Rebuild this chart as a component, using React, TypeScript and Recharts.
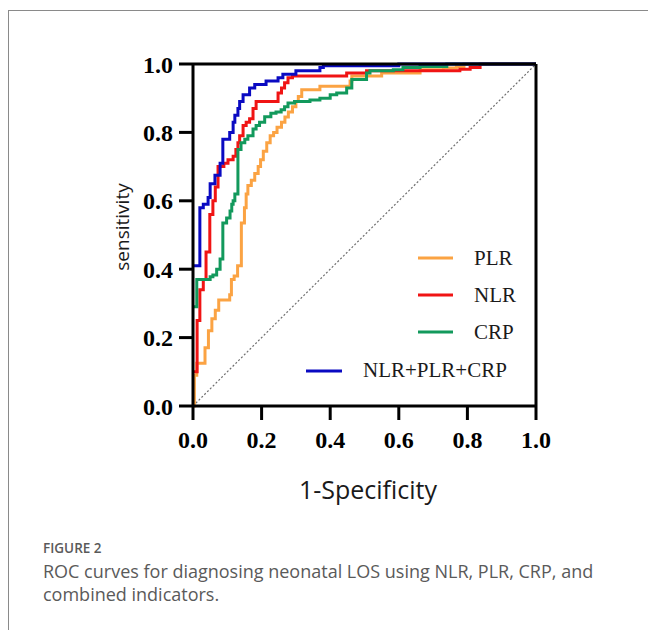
import React from 'react';
import { LineChart, Line, XAxis, YAxis } from 'recharts';

// ROC points as [1-specificity, sensitivity]; step is drawn horizontally then up
const plrPoints: [number, number][] = [
  [0, 0], [0.004, 0.09], [0.011, 0.125], [0.035, 0.17], [0.045, 0.22], [0.055, 0.255],
  [0.065, 0.28], [0.075, 0.31], [0.107, 0.325], [0.112, 0.37], [0.12, 0.38], [0.13, 0.41],
  [0.141, 0.535], [0.15, 0.58], [0.155, 0.62], [0.16, 0.645], [0.17, 0.66], [0.18, 0.68],
  [0.19, 0.7], [0.197, 0.72], [0.205, 0.745], [0.215, 0.77], [0.225, 0.79], [0.235, 0.8],
  [0.245, 0.815], [0.258, 0.83], [0.268, 0.845], [0.278, 0.86], [0.29, 0.875], [0.3, 0.89],
  [0.307, 0.905], [0.317, 0.925], [0.37, 0.935], [0.458, 0.95], [0.463, 0.965], [0.55, 0.974],
  [0.662, 0.983], [0.73, 0.988], [0.768, 0.993], [0.79, 1], [1, 1],
];

const nlrPoints: [number, number][] = [
  [0, 0.1], [0.012, 0.25], [0.02, 0.34], [0.03, 0.37], [0.038, 0.45], [0.049, 0.56],
  [0.058, 0.6], [0.065, 0.64], [0.073, 0.7], [0.09, 0.71], [0.102, 0.72], [0.117, 0.73],
  [0.125, 0.75], [0.131, 0.77], [0.136, 0.79], [0.146, 0.82], [0.155, 0.83], [0.165, 0.84],
  [0.175, 0.87], [0.184, 0.89], [0.248, 0.915], [0.258, 0.93], [0.267, 0.945], [0.277, 0.96],
  [0.29, 0.965], [0.448, 0.974], [0.506, 0.98], [0.778, 0.985], [0.808, 0.99], [0.837, 1], [1, 1],
];

const crpPoints: [number, number][] = [
  [0, 0.29], [0.011, 0.37], [0.05, 0.378], [0.058, 0.383], [0.069, 0.4], [0.079, 0.43],
  [0.087, 0.535], [0.098, 0.55], [0.108, 0.57], [0.113, 0.59], [0.117, 0.6], [0.122, 0.62],
  [0.131, 0.75], [0.14, 0.77], [0.151, 0.78], [0.16, 0.79], [0.175, 0.81], [0.184, 0.82],
  [0.194, 0.83], [0.209, 0.846], [0.227, 0.856], [0.242, 0.86], [0.257, 0.866], [0.267, 0.875],
  [0.277, 0.886], [0.296, 0.89], [0.341, 0.895], [0.37, 0.9], [0.4, 0.91], [0.419, 0.915],
  [0.448, 0.93], [0.463, 0.955], [0.506, 0.974], [0.516, 0.98], [0.584, 0.983], [0.612, 0.99],
  [0.662, 0.993], [0.74, 1], [1, 1],
];

const combinedPoints: [number, number][] = [
  [0.003, 0.41], [0.02, 0.58], [0.03, 0.59], [0.044, 0.61], [0.05, 0.65], [0.064, 0.675],
  [0.079, 0.71], [0.087, 0.78], [0.107, 0.8], [0.117, 0.83], [0.122, 0.85], [0.131, 0.87],
  [0.136, 0.89], [0.146, 0.91], [0.165, 0.93], [0.18, 0.94], [0.213, 0.95], [0.248, 0.96],
  [0.262, 0.97], [0.3, 0.98], [0.37, 0.99], [0.38, 0.995], [0.6, 1], [1, 1],
];

const chancePoints: [number, number][] = [[0, 0], [1, 1]];

const axisTicks = [0, 0.2, 0.4, 0.6, 0.8, 1.0];

const seriesNames = ['PLR', 'NLR', 'CRP', 'NLR+PLR+CRP'];
const seriesColors = ['#FBA343', '#F01414', '#12995C', '#0A0AC2'];

const toRows = (pts: [number, number][]) => pts.map(([x, y]) => ({ x, y }));

const serif = '"Liberation Serif", "Times New Roman", serif';
const sans = '"Open Sans", "Noto Sans", sans-serif';

const axisStroke = { stroke: '#000', strokeWidth: 3 };
const tickFont = { fill: '#000', fontSize: 24, fontWeight: 700, fontFamily: serif };

export default function App() {
  const series = [plrPoints, nlrPoints, crpPoints, combinedPoints];

  return (
    <div style={{ position: 'fixed', left: 0, top: 0, width: 648, height: 630, overflow: 'hidden', background: '#fff' }}>
      <div style={{ position: 'absolute', left: 8, top: 10, width: 700, height: 700, borderTop: '1px solid #8a8a8a', borderLeft: '1px solid #8a8a8a' }} />
      <div style={{ position: 'absolute', left: 0, top: 0 }}>
        <LineChart width={648} height={460} margin={{ top: 34, right: 52, bottom: 24, left: 133 }}>
          <XAxis
            xAxisId="bottom"
            type="number"
            dataKey="x"
            domain={[0, 1]}
            ticks={axisTicks}
            tickFormatter={(v: number) => v.toFixed(1)}
            tick={tickFont}
            tickSize={14}
            tickMargin={11}
            axisLine={axisStroke}
            tickLine={axisStroke}
          />
          <XAxis
            xAxisId="top"
            orientation="top"
            type="number"
            dataKey="x"
            domain={[0, 1]}
            ticks={axisTicks}
            tick={false}
            tickSize={14}
            axisLine={axisStroke}
            tickLine={axisStroke}
          />
          <YAxis
            yAxisId="left"
            type="number"
            dataKey="y"
            domain={[0, 1]}
            ticks={axisTicks}
            tickFormatter={(v: number) => v.toFixed(1)}
            tick={tickFont}
            tickSize={14}
            tickMargin={6}
            axisLine={axisStroke}
            tickLine={axisStroke}
          />
          <YAxis
            yAxisId="right"
            orientation="right"
            type="number"
            dataKey="y"
            domain={[0, 1]}
            ticks={axisTicks}
            tick={false}
            tickSize={14}
            axisLine={axisStroke}
            tickLine={axisStroke}
          />
          <Line
            xAxisId="bottom"
            yAxisId="left"
            data={toRows(chancePoints)}
            dataKey="y"
            type="linear"
            stroke="#6f6f6f"
            strokeWidth={1.2}
            strokeDasharray="2 2"
            dot={false}
            activeDot={false}
            isAnimationActive={false}
          />
          {series.map((pts, i) => (
            <Line
              key={seriesNames[i]}
              xAxisId="bottom"
              yAxisId="left"
              data={toRows(pts)}
              dataKey="y"
              name={seriesNames[i]}
              type="stepAfter"
              stroke={seriesColors[i]}
              strokeWidth={3}
              dot={false}
              activeDot={false}
              isAnimationActive={false}
            />
          ))}
        </LineChart>
      </div>
      <svg width={648} height={630} style={{ position: 'absolute', left: 0, top: 0, pointerEvents: 'none' }}>
        <text x={129} y={227} textAnchor="middle" transform="rotate(-90 129 227)" fontFamily={sans} fontSize={19} fill="#1a1a1a">
          sensitivity
        </text>
        <text x={368} y={499} textAnchor="middle" fontFamily={sans} fontSize={25} fill="#1a1a1a">
          1-Specificity
        </text>

        {/* legend */}
        <line x1={418} x2={453} y1={258} y2={258} stroke={seriesColors[0]} strokeWidth={3} />
        <text x={474} y={265} fontFamily={serif} fontSize={21} fill="#1a1a1a">{seriesNames[0]}</text>
        <line x1={418} x2={453} y1={295} y2={295} stroke={seriesColors[1]} strokeWidth={3} />
        <text x={474} y={302} fontFamily={serif} fontSize={21} fill="#1a1a1a">{seriesNames[1]}</text>
        <line x1={418} x2={453} y1={332} y2={332} stroke={seriesColors[2]} strokeWidth={3} />
        <text x={474} y={339} fontFamily={serif} fontSize={21} fill="#1a1a1a">{seriesNames[2]}</text>
        <line x1={306} x2={342} y1={371} y2={371} stroke={seriesColors[3]} strokeWidth={3} />
        <text x={363} y={377} fontFamily={serif} fontSize={21} fill="#1a1a1a">{seriesNames[3]}</text>

        {/* caption */}
        <text x={43} y={553} fontFamily={sans} fontSize={13.5} fontWeight={600} fill="#5a5a5a">FIGURE 2</text>
        <text x={43} y={578} fontFamily={sans} fontSize={18} fill="#5a5a5a">
          ROC curves for diagnosing neonatal LOS using NLR, PLR, CRP, and
        </text>
        <text x={43} y={601} fontFamily={sans} fontSize={18} fill="#5a5a5a">combined indicators.</text>
      </svg>
    </div>
  );
}
